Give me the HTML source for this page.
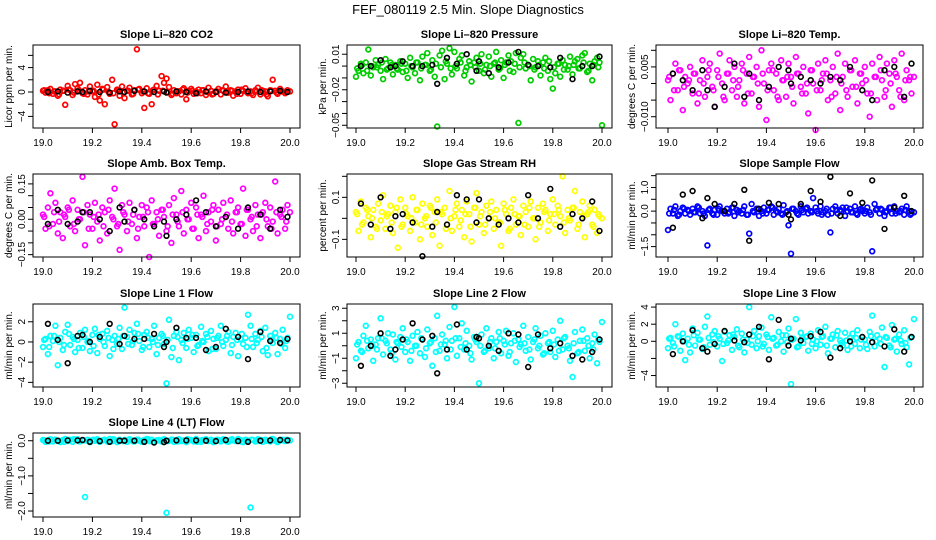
<!DOCTYPE html>
<html><head><meta charset="utf-8"><style>
html,body{margin:0;padding:0;background:#fff;}
svg{display:block;font-family:"Liberation Sans",sans-serif;}
</style></head><body>
<svg id="chart" width="936" height="540" viewBox="0 0 936 540" xmlns="http://www.w3.org/2000/svg">
<text x="468" y="14" font-size="13" text-anchor="middle">FEF_080119  2.5 Min. Slope Diagnostics</text>
</svg>
<script>
const T = [19.00,19.01,19.02,19.03,19.04,19.05,19.06,19.07,19.08,19.09,19.10,19.11,19.12,19.13,19.14,19.15,19.16,19.17,19.18,19.19,19.20,19.21,19.22,19.23,19.24,19.25,19.26,19.27,19.28,19.29,19.30,19.31,19.32,19.33,19.34,19.35,19.36,19.37,19.38,19.39,19.40,19.41,19.42,19.43,19.44,19.45,19.46,19.47,19.48,19.49,19.50,19.51,19.52,19.53,19.54,19.55,19.56,19.57,19.58,19.59,19.60,19.61,19.62,19.63,19.64,19.65,19.66,19.67,19.68,19.69,19.70,19.71,19.72,19.73,19.74,19.75,19.76,19.77,19.78,19.79,19.80,19.81,19.82,19.83,19.84,19.85,19.86,19.87,19.88,19.89,19.90,19.91,19.92,19.93,19.94,19.95,19.96,19.97,19.98,19.99,20.00];
const T2 = [19.005,19.025,19.045,19.065,19.085,19.105,19.125,19.145,19.165,19.185,19.205,19.225,19.245,19.265,19.285,19.305,19.325,19.345,19.365,19.385,19.405,19.425,19.445,19.465,19.485,19.505,19.525,19.545,19.565,19.585,19.605,19.625,19.645,19.665,19.685,19.705,19.725,19.745,19.765,19.785,19.805,19.825,19.845,19.865,19.885,19.905,19.925,19.945,19.965,19.985];
const TB = [19.02,19.06,19.10,19.14,19.16,19.19,19.23,19.27,19.31,19.33,19.37,19.41,19.45,19.49,19.50,19.54,19.58,19.62,19.66,19.70,19.74,19.79,19.83,19.88,19.92,19.96,19.99];
const xTicks = [19.0,19.2,19.4,19.6,19.8,20.0];
const xTickLabels = ["19.0","19.2","19.4","19.6","19.8","20.0"];

const co2 = [0.2,-0.1,0.3,0.5,-0.3,0.1,-0.6,0.4,0.2,-2.1,1.0,0.3,-0.5,1.3,0.6,1.5,-0.2,0.3,-0.4,0.9,0.1,-0.8,1.2,-1.4,0.5,-2.0,0.8,-0.3,2.0,-5.3,0.4,-0.6,0.9,-1.0,0.2,0.7,-0.4,0.3,7.0,0.5,-0.2,-2.6,0.6,-0.3,-2.0,0.4,1.0,0.2,2.6,1.5,2.2,0.8,-0.5,0.3,-0.2,0.1,-0.4,0.6,-1.2,0.2,0.5,-0.3,0.1,0.4,-0.2,0.3,-0.5,0.7,0.2,-0.3,0.1,0.5,-0.4,0.2,0.9,-0.1,0.3,-0.6,0.1,0.4,-0.3,0.2,0.6,-0.2,0.1,-0.5,0.3,0.7,-0.4,0.2,0.1,-0.7,0.3,2.0,0.2,-0.3,0.5,0.1,-0.2,0.3,0.1];
const co2C = [0.3,-0.2,0.1,-0.4,0.2,0.4,-0.1,0.3,-0.3,0.1,0.2,-0.4,0.4,0.0,-0.2,0.3,-0.1,0.2,-0.3,0.4,0.1,-0.2,0.3,-0.4,0.2,0.0,-0.3,0.1,0.4,-0.1,0.2,-0.2,0.3,0.0,-0.4,0.1,0.3,-0.1,0.2,-0.3,0.4,0.0,-0.2,0.1,0.3,-0.4,0.2,-0.1,0.1,0.0];
const co2B = [0,0.1,-0.1,0.1,0,0.2,0,-0.1,0.1,0,0.2,0.1,0,0.1,-0.1,0.1,0,-0.2,0.1,0,-0.1,0,0.1,0,0.1,0.2,0];
const pres = [-0.009,-0.004,0.002,-0.006,0.003,0.014,-0.008,-0.001,0.005,0.001,-0.004,-0.011,0.006,-0.002,0.003,-0.007,0.001,-0.003,0.004,-0.005,0.002,-0.010,0.007,-0.001,-0.006,0.003,-0.012,0.008,0.001,0.011,-0.004,0.005,-0.009,-0.051,0.009,0.013,-0.011,0.002,0.015,-0.007,0.012,-0.002,0.006,0.009,-0.008,-0.001,0.004,-0.013,0.003,0.007,-0.004,0.010,-0.006,0.001,0.008,-0.009,0.002,0.012,-0.003,0.005,-0.010,0.003,0.009,0.004,-0.005,0.011,-0.048,0.007,0.010,-0.002,0.001,-0.012,0.006,-0.001,0.004,-0.008,0.003,0.007,-0.004,-0.011,-0.019,-0.006,0.002,-0.009,0.005,0.001,-0.003,0.008,-0.007,0.004,0.006,-0.002,0.009,0.011,-0.005,0.002,-0.012,0.004,0.007,0.003,-0.050];
const presC = [-0.002,0.001,-0.004,0.000,-0.001,0.003,-0.003,0.001,-0.002,0.002,-0.004,0.000,0.003,-0.002,0.001,-0.003,0.002,-0.001,0.004,-0.002,0.000,0.003,-0.004,0.001,-0.001,0.002,-0.003,0.000,0.003,-0.002,0.001,-0.004,0.002,-0.001,0.003,0.000,-0.003,0.001,-0.002,0.004,-0.001,0.002,-0.003,0.000,0.001,-0.002,0.003,-0.004,0.001,-0.001];
const presB = [0,0,0.005,-0.001,0,0.004,0,0,0.001,-0.015,0.007,0.002,0.010,-0.004,0.004,-0.006,-0.001,0.003,0.012,0.001,0,-0.001,0.007,-0.011,0,0,0.008];
const temp = [0.001,-0.005,0.003,0.006,-0.002,0.004,-0.008,0.002,0.000,0.005,-0.003,0.003,-0.006,0.001,0.007,-0.004,0.002,0.006,-0.001,-0.007,0.004,0.009,0.000,-0.005,0.003,0.007,-0.002,0.005,-0.004,0.001,0.006,-0.006,0.003,0.008,-0.003,0.002,0.005,-0.007,0.010,0.000,-0.011,0.004,0.006,-0.002,0.003,-0.005,0.007,0.001,-0.004,0.006,0.002,-0.006,0.008,0.003,-0.001,0.005,-0.003,-0.009,0.004,0.000,-0.014,0.006,-0.002,0.003,0.007,-0.005,0.001,0.005,-0.003,0.009,-0.008,0.002,0.006,-0.004,0.004,-0.001,0.007,-0.006,0.003,0.000,0.005,-0.003,-0.010,0.006,0.002,-0.005,0.008,0.001,-0.004,0.006,0.003,-0.007,0.007,0.002,-0.002,0.009,-0.005,0.004,0.001,-0.003,0.002];
const tempC = [0.002,-0.002,0.004,-0.001,0.001,0.003,-0.003,0.000,0.004,-0.002,0.002,-0.004,0.003,0.001,-0.001,0.004,-0.003,0.002,0.000,0.003,-0.002,0.004,-0.004,0.001,0.002,-0.001,0.003,-0.003,0.000,0.004,-0.002,0.001,0.003,-0.004,0.002,0.000,-0.002,0.004,-0.001,0.003,0.001,-0.003,0.002,0.004,-0.002,0.000,0.003,-0.004,0.001,0.002];
const tempB = [0.003,0.001,-0.002,0.004,-0.002,-0.007,-0.001,0.006,-0.004,0.003,-0.005,-0.001,0.005,0.004,0.000,0.002,0.001,0.000,0.002,0.001,0.005,-0.002,-0.005,0.004,0.005,-0.004,0.006];
const amb = [0.02,-0.04,0.05,0.11,-0.02,0.07,-0.06,0.03,-0.08,0.01,0.05,-0.03,0.08,-0.05,0.04,0.00,0.18,-0.11,0.06,0.02,-0.04,0.07,-0.01,-0.09,0.05,0.03,-0.06,0.08,0.01,0.13,-0.03,-0.13,0.06,0.02,-0.05,0.07,-0.02,0.04,-0.08,0.01,0.06,-0.03,0.05,-0.16,0.08,-0.02,0.03,-0.07,0.04,0.01,-0.05,0.06,-0.10,0.09,0.02,-0.03,0.12,-0.06,0.04,0.00,0.07,-0.04,0.05,-0.08,0.02,0.10,-0.05,0.03,-0.01,0.06,-0.09,0.04,-0.02,0.07,0.01,-0.04,0.08,-0.06,0.03,0.05,-0.02,0.13,-0.07,0.04,0.00,-0.05,0.06,0.02,-0.08,0.03,0.07,-0.03,0.05,-0.01,0.16,-0.06,0.02,0.04,-0.04,0.06,0.03];
const ambC = [0.01,-0.03,0.03,-0.01,0.02,0.04,-0.02,0.00,0.03,-0.04,0.01,0.02,-0.03,0.04,0.00,-0.02,0.03,-0.01,0.02,-0.04,0.01,0.03,-0.02,0.00,0.04,-0.03,0.02,-0.01,0.03,0.00,-0.04,0.02,0.01,-0.02,0.04,-0.03,0.00,0.02,-0.01,0.03,-0.02,0.04,0.01,-0.03,0.02,0.00,-0.04,0.03,0.01,-0.01];
const ambB = [-0.02,0.04,-0.02,-0.01,0.03,0.03,0.00,-0.05,0.05,-0.01,0.04,0.00,-0.03,-0.01,-0.07,0.00,0.02,0.08,0.03,-0.03,0.01,-0.04,0.05,0.02,-0.04,0.04,0.01];
const rh = [0.03,-0.06,0.08,-0.02,0.05,0.01,-0.09,0.04,-0.04,0.07,-0.01,0.11,-0.05,0.02,0.06,-0.07,0.03,-0.14,0.09,-0.03,0.05,0.01,-0.06,0.10,-0.02,0.04,-0.10,0.07,0.00,-0.04,0.06,-0.08,0.03,0.09,-0.13,0.02,0.05,-0.03,0.13,-0.06,0.01,0.07,-0.04,0.04,-0.09,0.08,0.02,-0.11,0.05,0.12,-0.03,0.03,-0.07,0.06,0.00,0.08,-0.05,0.04,-0.02,-0.13,0.07,0.02,-0.06,0.05,0.09,-0.03,0.01,-0.08,0.06,0.03,-0.04,0.08,0.00,-0.10,0.05,-0.02,0.07,0.04,-0.06,0.02,0.09,-0.03,0.06,0.01,0.20,-0.07,0.04,-0.01,0.05,0.13,-0.05,0.03,0.08,-0.09,0.02,0.06,-0.03,0.04,-0.07,0.01,0.00];
const rhC = [0.02,-0.03,0.04,0.00,-0.05,0.03,0.01,-0.02,0.05,-0.04,0.02,0.00,0.04,-0.03,0.01,0.05,-0.02,0.03,-0.05,0.00,0.04,-0.01,0.02,-0.04,0.05,0.01,-0.03,0.03,0.00,-0.02,0.04,-0.05,0.02,0.01,-0.03,0.05,0.00,-0.04,0.03,-0.01,0.02,0.04,-0.02,0.00,0.05,-0.03,0.01,0.03,-0.04,0.02];
const rhB = [0.07,-0.03,0.10,-0.05,0.01,0.02,-0.02,-0.18,-0.04,0.03,-0.03,0.11,0.09,-0.02,0.09,0.00,-0.03,0.00,-0.02,0.11,0.00,0.14,-0.04,0.02,0.00,0.08,-0.06];
const samp = [-0.8,0.1,-0.1,0.2,-0.2,0.0,0.15,-0.1,0.05,-0.15,0.1,-0.05,0.2,-0.1,0.0,-0.2,-1.45,0.1,-0.1,0.05,-0.15,0.2,0.0,-0.1,0.1,-0.05,0.15,-0.2,0.05,0.0,-0.1,0.2,-0.15,-0.95,0.3,-0.05,0.1,-0.2,0.0,0.15,-0.1,0.05,0.2,-0.15,0.0,0.1,-0.1,0.25,-0.05,-0.6,-1.8,0.1,0.0,-0.15,0.2,-0.05,0.1,-0.1,0.0,0.55,0.15,-0.1,0.2,-0.05,0.0,-0.15,-0.9,0.1,0.2,-0.1,0.05,0.15,-0.2,0.0,0.1,-0.05,0.2,-0.15,0.05,0.0,-0.1,0.15,-0.05,-1.7,0.3,0.1,-0.1,0.05,-0.2,0.0,0.15,-0.1,0.2,0.0,-0.05,0.1,-0.15,0.2,0.0,-0.1,-0.05];
const sampC = [-0.1,0.05,-0.15,0.1,0.0,-0.05,0.15,-0.1,0.05,-0.15,0.1,0.0,-0.1,0.15,-0.05,0.05,-0.15,0.0,0.1,-0.1,0.05,0.15,-0.05,-0.15,0.0,0.1,-0.1,0.05,0.15,-0.05,0.0,-0.15,0.1,-0.1,0.05,0.0,0.15,-0.05,-0.1,0.1,0.0,-0.15,0.05,0.1,-0.05,0.15,-0.1,0.0,0.05,-0.15];
const sampB = [-0.7,0.7,0.85,-0.3,0.55,0.3,0.0,0.3,0.9,-1.25,0.1,0.35,0.3,-0.15,-0.35,0.3,0.85,0.4,1.45,-0.2,0.75,0.35,1.3,-0.75,0.15,0.65,0.0];
const l1 = [-0.5,0.3,-1.2,0.6,0.1,1.6,-2.3,0.4,-0.8,1.0,1.7,-0.3,0.5,-1.0,0.2,0.9,-0.6,1.2,0.0,-0.9,0.7,1.3,-1.1,0.3,0.8,-0.4,1.1,-1.4,0.2,0.6,-0.2,1.4,-0.7,3.4,0.5,1.2,-0.3,0.9,1.8,0.1,-0.8,0.7,1.0,-0.5,0.3,1.6,-1.2,0.4,0.8,-0.2,-4.1,2.2,-1.5,0.6,1.0,-1.8,0.2,0.9,-0.6,1.2,0.4,-1.0,0.7,-0.3,1.5,0.0,0.8,-0.9,1.1,0.3,-0.7,0.6,1.6,-0.4,0.2,1.0,-1.1,0.5,0.9,-1.4,0.3,-0.2,0.4,2.7,1.6,-0.5,0.8,0.2,1.1,-0.9,1.4,-1.3,0.6,-0.1,0.9,-1.2,0.3,1.2,-0.6,0.4,2.5];
const l1C = [0.2,-0.5,0.6,0.0,-0.3,0.8,0.3,-0.6,0.5,0.1,-0.4,0.7,0.0,0.4,-0.7,0.3,0.6,-0.2,0.1,0.8,-0.5,0.4,0.0,-0.3,0.6,0.2,-0.6,0.5,-0.1,0.3,0.7,-0.4,0.1,0.5,-0.7,0.4,0.0,0.6,-0.3,0.2,0.8,-0.5,0.3,-0.1,0.5,-0.6,0.2,0.4,-0.2,0.1];
const l1B = [1.8,0.2,-2.1,0.6,0.7,0.0,0.5,1.8,-0.2,0.6,0.3,0.3,0.8,-0.5,0.0,1.4,0.4,0.4,-0.8,-0.5,1.3,0.5,-1.7,1.0,0.1,-0.1,0.3];
const l2 = [-1.0,0.3,-0.4,0.8,1.6,-0.2,0.5,-1.2,0.1,0.6,2.2,-0.7,0.4,1.0,-0.3,0.9,-1.1,0.2,0.7,1.4,-0.5,0.3,-1.2,0.8,0.0,1.1,-0.6,0.5,-0.9,1.3,0.2,-1.6,0.6,2.4,-0.4,0.9,0.1,-1.0,1.5,0.4,3.1,-0.8,0.6,1.8,-0.3,1.2,0.0,-1.1,0.7,0.3,-3.0,0.9,-0.5,1.4,-0.2,0.6,-1.0,0.3,1.1,-0.6,0.4,1.2,-0.8,0.2,1.0,-1.3,0.5,0.1,1.6,-0.4,0.7,-1.1,0.3,1.4,-0.2,0.8,-0.7,1.0,0.2,-0.5,1.2,-0.9,0.5,2.0,-0.3,0.7,0.0,-1.2,-2.5,1.1,-0.6,0.4,1.3,-0.4,0.6,-1.0,0.2,0.9,-1.4,0.3,1.9];
const l2C = [0.1,-0.5,0.4,0.0,-0.3,0.6,0.2,-0.6,0.3,-0.1,0.5,-0.4,0.0,0.6,-0.2,0.3,-0.5,0.1,0.4,-0.3,0.6,-0.1,0.2,-0.6,0.5,0.0,-0.4,0.3,-0.2,0.6,0.1,-0.5,0.4,-0.1,0.2,-0.3,0.5,0.0,-0.6,0.3,0.1,-0.4,0.6,-0.2,0.2,-0.5,0.4,0.0,-0.3,0.5];
const l2B = [-1.6,0.0,1.0,-0.8,-0.3,0.5,1.8,0.5,0.8,-2.2,-0.3,1.7,-0.3,0.7,0.6,0.0,-0.4,1.0,0.9,-1.7,0.9,-0.2,0.2,-0.8,-1.1,-0.5,0.5];
const l3 = [-0.8,0.4,-0.2,2.0,0.6,-1.1,0.9,-2.2,0.3,-1.3,1.5,-0.5,1.0,0.2,-0.9,1.7,2.9,-0.4,0.8,1.2,-0.6,0.3,-2.3,1.1,-0.2,0.7,-1.0,0.5,1.4,-0.7,0.9,-1.3,0.2,4.0,-0.4,1.2,-0.8,0.6,1.6,-0.3,0.8,-1.0,2.8,0.4,-0.5,1.1,0.0,-1.2,0.7,1.5,-5.0,0.3,2.6,-0.6,1.0,-0.2,0.5,-1.1,0.9,0.2,-0.8,1.3,-0.4,0.6,1.7,-1.4,0.3,0.8,-0.7,1.2,0.1,-0.5,1.0,-1.0,0.4,0.9,-0.3,1.3,-0.8,0.5,0.2,-0.9,1.1,3.0,-0.6,0.7,0.3,1.6,-3.0,0.4,-0.5,1.9,0.2,-1.2,0.8,-0.3,1.3,-0.7,-2.7,0.5,2.6];
const l3C = [0.3,-0.6,0.5,0.0,-0.4,0.7,0.2,-0.7,0.4,-0.1,0.6,-0.3,0.1,0.8,-0.5,0.2,-0.2,0.6,0.0,-0.6,0.5,0.3,-0.4,0.7,-0.1,0.2,-0.7,0.4,0.6,-0.3,0.0,0.5,-0.5,0.3,0.7,-0.2,0.1,-0.6,0.4,0.2,-0.4,0.6,0.0,-0.3,0.5,-0.7,0.3,0.1,-0.2,0.4];
const l3B = [-1.5,0.0,1.3,-0.8,-1.2,-0.3,1.2,0.1,-0.1,0.8,1.7,-2.1,2.5,-0.5,0.3,0.1,0.6,1.1,-1.9,-0.8,0.0,0.5,-0.1,-0.6,1.4,-1.2,0.5];
const l4 = [0.02,-0.03,0.01,0.04,-0.02,0.03,0.00,-0.04,0.02,0.05,-0.01,0.03,-0.03,0.02,0.04,-0.02,0.01,-1.6,0.03,-0.04,0.02,0.00,0.04,-0.03,0.01,0.03,-0.02,0.05,-0.01,0.02,-0.04,0.03,0.00,0.02,-0.03,0.04,0.01,-0.02,0.03,0.00,-0.03,0.02,0.05,-0.01,0.03,-0.04,0.01,0.02,-0.02,0.04,-2.05,0.00,0.03,-0.03,0.02,0.04,-0.01,0.01,-0.04,0.03,0.02,-0.02,0.05,0.00,-0.03,0.02,0.04,-0.01,0.03,-0.04,0.01,0.02,-0.02,0.04,0.00,-0.03,0.03,0.01,-0.01,0.05,0.02,-0.04,0.03,0.00,-1.9,0.02,-0.02,0.04,0.01,-0.03,0.03,0.00,-0.02,0.05,0.01,-0.04,0.02,0.03,-0.01,0.02,0.01];
const l4C = [0.01,-0.02,0.03,0.00,-0.03,0.02,0.04,-0.01,0.01,-0.02,0.03,0.00,0.02,-0.03,0.04,0.01,-0.01,0.02,-0.02,0.03,0.00,0.04,-0.03,0.01,0.02,-0.01,0.03,-0.02,0.00,0.04,0.01,-0.03,0.02,0.00,-0.01,0.03,0.02,-0.02,0.04,0.00,-0.03,0.01,0.03,-0.01,0.02,0.00,0.04,-0.02,0.01,0.03];
const l4B = [0.0,0.0,0.01,0.01,0.02,-0.03,-0.01,-0.03,0.0,0.0,0.0,-0.03,-0.05,-0.04,0.0,0.01,0.01,0.01,0.0,-0.01,0.02,-0.01,-0.03,0.0,0.01,0.02,0.01];

const NS = "http://www.w3.org/2000/svg";
const svg = document.getElementById('chart');
function mk(tag, attrs, parent){
  const e = document.createElementNS(NS, tag);
  for (const k in attrs) e.setAttribute(k, attrs[k]);
  (parent||svg).appendChild(e);
  return e;
}
const cols = [{b0:33,b1:300,d0:43,d1:290},{b0:347,b1:612,d0:356,d1:602},{b0:656,b1:923,d0:668,d1:914}];
const rows = [{t:45,b:128},{t:174,b:257},{t:304,b:387},{t:433,b:517}];
const panels = [
 {key:'co2',c:0,r:0,title:'Slope Li\u2013820 CO2',ylab:'Licor ppm per min.',color:'#ff0000',ys:co2,yc:co2C,yb:co2B,ylim:[-5.9,7.7],ticks:[-4,-2,0,2,4,6],labs:{'-4':'\u22124','0':'0','4':'4'}},
 {key:'pressure',c:1,r:0,title:'Slope Li\u2013820 Pressure',ylab:'kPa per min.',color:'#00cc00',ys:pres,yc:presC,yb:presB,ylim:[-0.0523,0.0178],ticks:[-0.05,-0.04,-0.03,-0.02,-0.01,0,0.01],labs:{'-0.05':'\u22120.05','-0.02':'\u22120.02','0.01':'0.01'}},
 {key:'li-temp',c:2,r:0,title:'Slope Li\u2013820 Temp.',ylab:'degrees C per min.',color:'#ff00ff',ys:temp,yc:tempC,yb:tempB,ylim:[-0.0134,0.0116],ticks:[-0.01,-0.005,0,0.005,0.01],labs:{'-0.01':'\u22120.010','0.005':'0.005'}},
 {key:'amb-temp',c:0,r:1,title:'Slope Amb. Box Temp.',ylab:'degrees C per min.',color:'#ff00ff',ys:amb,yc:ambC,yb:ambB,ylim:[-0.16,0.192],ticks:[-0.15,-0.1,-0.05,0,0.05,0.1,0.15],labs:{'-0.15':'\u22120.15','0':'0.00','0.15':'0.15'}},
 {key:'rh',c:1,r:1,title:'Slope Gas Stream RH',ylab:'percent per min.',color:'#ffff00',ys:rh,yc:rhC,yb:rhB,ylim:[-0.184,0.211],ticks:[-0.1,0,0.1,0.2],labs:{'-0.1':'\u22120.1','0.1':'0.1'}},
 {key:'sample-flow',c:2,r:1,title:'Slope Sample Flow',ylab:'ml/min per min.',color:'#0000ff',ys:samp,yc:sampC,yb:sampB,ylim:[-1.94,1.57],ticks:[-1.5,-1,-0.5,0,0.5,1,1.5],labs:{'-1.5':'\u22121.5','0':'0.0','1':'1.0'}},
 {key:'line1',c:0,r:2,title:'Slope Line 1 Flow',ylab:'ml/min per min.',color:'#00ffff',ys:l1,yc:l1C,yb:l1B,ylim:[-4.46,3.76],ticks:[-4,-2,0,2],labs:{'-4':'\u22124','-2':'\u22122','0':'0','2':'2'}},
 {key:'line2',c:1,r:2,title:'Slope Line 2 Flow',ylab:'ml/min per min.',color:'#00ffff',ys:l2,yc:l2C,yb:l2B,ylim:[-3.3,3.34],ticks:[-3,-2,-1,0,1,2,3],labs:{'-3':'\u22123','-1':'\u22121','1':'1','3':'3'}},
 {key:'line3',c:2,r:2,title:'Slope Line 3 Flow',ylab:'ml/min per min.',color:'#00ffff',ys:l3,yc:l3C,yb:l3B,ylim:[-5.34,4.36],ticks:[-4,-2,0,2,4],labs:{'-4':'\u22124','0':'0','2':'2','4':'4'}},
 {key:'line4',c:0,r:3,title:'Slope Line 4 (LT) Flow',ylab:'ml/min per min.',color:'#00ffff',ys:l4,yc:l4C,yb:l4B,ylim:[-2.17,0.22],ticks:[-2,-1.5,-1,-0.5,0],labs:{'-2':'\u22122.0','-1':'\u22121.0','0':'0.0'}}
];
panels.forEach(p=>{
  const C = cols[p.c], R = rows[p.r];
  const g = mk('g',{});
  
  
  const xs = v => C.d0 + (v-19)*(C.d1-C.d0);
  const ysc = v => R.b - (v-p.ylim[0])/(p.ylim[1]-p.ylim[0])*(R.b-R.t);
  const title = mk('text',{x:(C.b0+C.b1)/2,y:R.t-7,'font-size':11,'font-weight':'bold','text-anchor':'middle'},g);
  title.textContent = p.title;
  
  
  const pts = mk('g',{fill:'none',stroke:p.color,'stroke-width':1.7},g);
  
  
  p.ys.forEach((v,i)=>{
    const c = mk('circle',{cx:xs(T[i]).toFixed(1),cy:ysc(v).toFixed(1),r:2.4},pts);
    
    
  });
  p.yc.forEach((v,i)=>{
    if (i >= T2.length) return;
    const c = mk('circle',{cx:xs(T2[i]).toFixed(1),cy:ysc(v).toFixed(1),r:2.4},pts);
    
    
  });
  const bpts = mk('g',{fill:'none',stroke:'#000','stroke-width':1.6},g);
  
  
  p.yb.forEach((v,i)=>{
    const c = mk('circle',{cx:xs(TB[i]).toFixed(1),cy:ysc(v).toFixed(1),r:2.4},bpts);
    
    
  });
  const box = mk('rect',{x:C.b0,y:R.t,width:C.b1-C.b0,height:R.b-R.t,fill:'none',stroke:'#000','stroke-width':1},g);
  
  
  const xa = mk('g',{},g);
  
  
  xTicks.forEach((t,i)=>{
    const x = xs(t);
    mk('line',{x1:x,x2:x,y1:R.b,y2:R.b+5,stroke:'#000','stroke-width':1},xa);
    const tx = mk('text',{x:x,y:R.b+18,'font-size':10,'text-anchor':'middle'},xa);
    tx.textContent = xTickLabels[i];
    
    
  });
  const ya = mk('g',{},g);
  
  
  p.ticks.forEach(t=>{
    const y = ysc(t);
    mk('line',{x1:C.b0-5,x2:C.b0,y1:y,y2:y,stroke:'#000','stroke-width':1},ya);
    const lab = p.labs[String(t)];
    if (lab !== undefined){
      const tx = mk('text',{x:0,y:0,'font-size':10,'text-anchor':'middle',transform:`translate(${C.b0-8},${y}) rotate(-90)`},ya);
      tx.textContent = lab;
      
      
    }
  });
  const yt = mk('text',{x:0,y:0,'font-size':10,'text-anchor':'middle',transform:`translate(${C.b0-21},${(R.t+R.b)/2}) rotate(-90)`},g);
  yt.textContent = p.ylab;
  
  
});
</script>
</body></html>
